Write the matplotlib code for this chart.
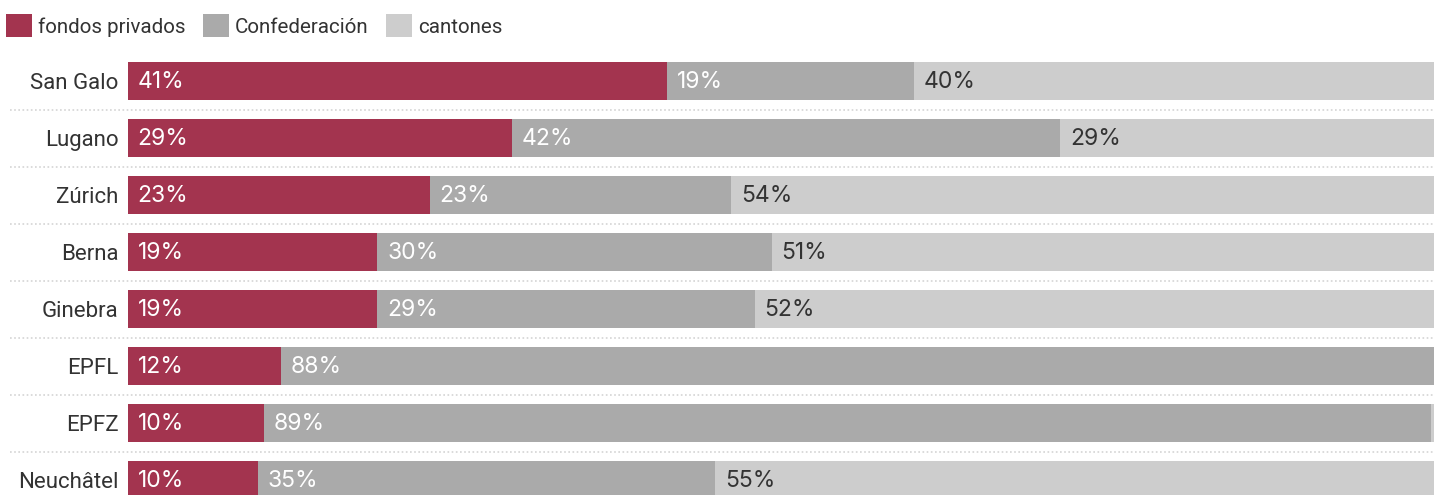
import matplotlib
matplotlib.use("Agg")
import matplotlib.pyplot as plt
import matplotlib.transforms as mtransforms
from matplotlib.patches import Patch

plt.rcParams["font.family"] = ["Roboto", "DejaVu Sans"]

categories = ["San Galo", "Lugano", "Zúrich", "Berna", "Ginebra", "EPFL", "EPFZ", "Neuchâtel"]
privados = [41.3, 29.4, 23.1, 19.1, 19.1, 11.7, 10.4, 9.95]
confederacion = [18.9, 42.0, 23.1, 30.2, 28.9, 88.3, 89.4, 35.0]
cantones = [39.8, 28.6, 53.8, 50.8, 52.1, 0.0, 0.2, 55.1]
series_names = ["fondos privados", "Confederación", "cantones"]

C_RED, C_MID, C_LIGHT = "#a3344f", "#aaaaaa", "#cdcdcd"
colors = [C_RED, C_MID, C_LIGHT]
txt_colors = ["white", "white", "#333333"]

fig = plt.figure(figsize=(14.34, 4.95), dpi=100)
ax = fig.add_axes([128 / 1434, 0, 1 - 128 / 1434, 1 - 52.5 / 495])

ys = list(range(len(categories)))
left = [0.0] * len(categories)
for vals, col, tcol in zip([privados, confederacion, cantones], colors, txt_colors):
    ax.barh(ys, vals, left=left, height=0.65, color=col, linewidth=0)
    for y, l, v in zip(ys, left, vals):
        if round(v) >= 1:
            ax.annotate(f"{round(v)}%", (l, y), textcoords="offset points", xytext=(7, -0.5),
                        ha="left", va="center", color=tcol, fontsize=16.5,
                        family=["Inter", "DejaVu Sans"])
    left = [a + b for a, b in zip(left, vals)]

ax.set_xlim(0, 100)
ax.set_ylim(7.263, -0.5)
ax.set_yticks(ys)
ax.set_yticklabels(categories, fontsize=16, color="#333333")
ax.tick_params(axis="y", length=0, pad=7)
ax.set_xticks([])
for s in ax.spines.values():
    s.set_visible(False)

# dotted row separators spanning the figure width
trans = mtransforms.blended_transform_factory(fig.transFigure, ax.transData)
for i in range(len(categories) - 1):
    ax.plot([10 / 1434, 1], [i + 0.5, i + 0.5], transform=trans, color="#d4d4d4",
            lw=1.2, ls=(0, (1, 1.5)), clip_on=False)

handles = [Patch(facecolor=c, edgecolor="none") for c in colors]
fig.legend(handles, series_names, loc="upper left", bbox_to_anchor=(-0.002, 1 - 5 / 495), ncol=3,
           frameon=False, fontsize=14.8, handlelength=1.25, handleheight=1.35,
           handletextpad=0.3, columnspacing=0.85, borderaxespad=0.0, borderpad=0.45,
           labelcolor="#333333")

fig.savefig("out.png", dpi=100)
